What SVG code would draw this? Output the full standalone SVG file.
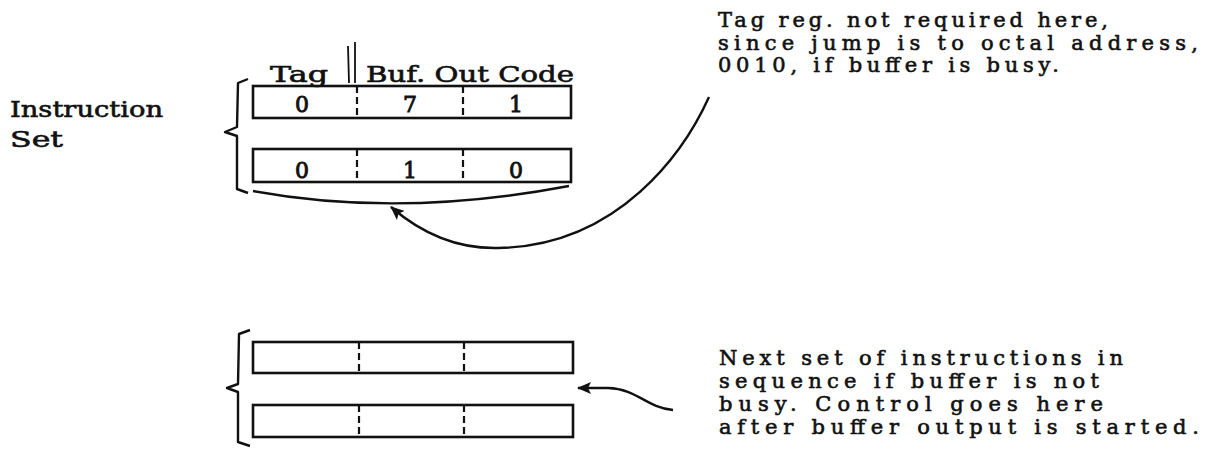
<svg xmlns="http://www.w3.org/2000/svg" width="1217" height="464" viewBox="0 0 1217 464">
<style>
text{font-family:"DejaVu Serif","Liberation Serif",serif;fill:#111;stroke:#111;stroke-width:0.6;}
.lbl{font-size:21px;stroke-width:0.6;}
.big{font-size:22px;}
.dig{font-size:22px;text-anchor:middle;stroke-width:0.9;}
.box{fill:none;stroke:#111;stroke-width:2.6;}
.div{stroke:#111;stroke-width:2.2;stroke-dasharray:7 4;}
.line{fill:none;stroke:#111;stroke-width:2.4;}
.brace{fill:none;stroke:#111;stroke-width:2.4;stroke-linejoin:round;}
</style>
<defs>
<marker id="ah" markerWidth="14" markerHeight="12" refX="13" refY="6" orient="auto" markerUnits="userSpaceOnUse">
<path d="M0,0 L14,6 L0,12 L3,6 Z" fill="#111"/>
</marker>
</defs>
<g id="instruction-set-label">
<text class="big" x="10" y="117" textLength="153" lengthAdjust="spacingAndGlyphs">Instruction</text>
<text class="big" x="10" y="147" textLength="53" lengthAdjust="spacingAndGlyphs">Set</text>
</g>
<g id="header">
<text class="big" x="270" y="82" textLength="58" lengthAdjust="spacingAndGlyphs">Tag</text>
<line x1="348" y1="46" x2="349" y2="83" stroke="#111" stroke-width="1.8"/>
<line x1="355" y1="42" x2="355" y2="83" stroke="#111" stroke-width="1.8"/>
<text class="big" x="366" y="82" textLength="208" lengthAdjust="spacingAndGlyphs">Buf. Out Code</text>
</g>
<g id="brace-top">
<path class="brace" d="M248,79 L238,83 L237,127 L225,132 L237,136 L237,189 L248,193"/>
</g>
<g id="row1">
<rect class="box" x="253" y="86" width="318" height="32"/>
<line class="div" x1="357" y1="86" x2="357" y2="118"/>
<line class="div" x1="463" y1="86" x2="463" y2="118"/>
<text class="dig" x="302" y="112">0</text>
<text class="dig" x="410" y="112">7</text>
<text class="dig" x="516" y="112">1</text>
</g>
<g id="row2">
<rect class="box" x="253" y="149" width="318" height="33"/>
<line class="div" x1="357" y1="149" x2="357" y2="182"/>
<line class="div" x1="463" y1="149" x2="463" y2="182"/>
<text class="dig" x="302" y="178">0</text>
<text class="dig" x="410" y="178">1</text>
<text class="dig" x="516" y="178">0</text>
</g>
<g id="brace-bottom">
<path class="brace" d="M250,330 L239,334 L238,384 L227,388 L238,392 L238,442 L250,446"/>
</g>
<g id="row3">
<rect class="box" x="253" y="342" width="320" height="31"/>
<line class="div" x1="359" y1="342" x2="359" y2="373"/>
<line class="div" x1="464" y1="342" x2="464" y2="373"/>
</g>
<g id="row4">
<rect class="box" x="253" y="405" width="320" height="32"/>
<line class="div" x1="359" y1="405" x2="359" y2="437"/>
<line class="div" x1="464" y1="405" x2="464" y2="437"/>
</g>
<g id="note-top">
<text class="lbl" x="718" y="27" textLength="390" lengthAdjust="spacing">Tag reg.  not required here,</text>
<text class="lbl" x="718" y="50" textLength="480" lengthAdjust="spacing">since jump is to octal address,</text>
<text class="lbl" x="718" y="72" textLength="341" lengthAdjust="spacing">0010, if buffer is busy.</text>
</g>
<g id="note-bottom">
<text class="lbl" x="719" y="365" textLength="404" lengthAdjust="spacing">Next set of instructions in</text>
<text class="lbl" x="719" y="388" textLength="380" lengthAdjust="spacing">sequence if buffer is not</text>
<text class="lbl" x="719" y="411" textLength="384" lengthAdjust="spacing">busy.  Control goes here</text>
<text class="lbl" x="719" y="434" textLength="480" lengthAdjust="spacing">after buffer output is started.</text>
</g>
<g id="connectors">
<path class="line" d="M253,191 Q400,218 569,186"/>
<path class="line" d="M709,97 C685,150 620,246 498,248 C455,249 420,232 391,207" marker-end="url(#ah)"/>
<path class="line" d="M673,410 C645,407 638,389 608,388 L578,388" marker-end="url(#ah)"/>
</g>
</svg>
